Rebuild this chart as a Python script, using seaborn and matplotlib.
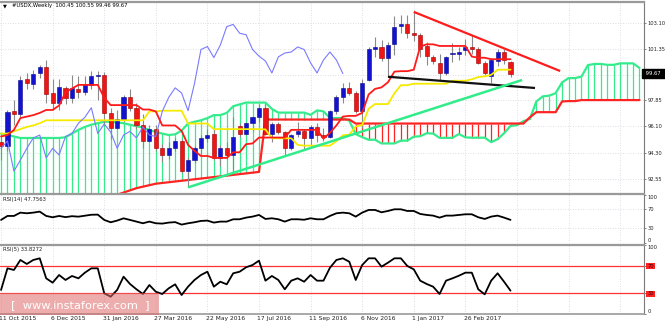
import numpy as np
import pandas as pd
import matplotlib
matplotlib.use("Agg")
import matplotlib.pyplot as plt
import matplotlib.transforms as mtrans
from matplotlib.patches import Rectangle
import seaborn as sns

# ---------------- weekly USDX candles (bar 0 = week of 11 Oct 2015) ----------------
OPEN = [95.0, 94.75, 97.1, 96.9, 99.3, 98.96, 99.7, 100.11, 98.35, 97.67,
        98.69, 98.0, 98.62, 98.42, 98.9, 99.5, 99.57, 97.0, 96.0, 96.6,
        98.1, 97.3, 96.2, 95.1, 95.9, 94.6, 94.15, 94.6, 95.1, 93.05,
        93.8, 94.6, 95.3, 95.6, 93.95, 94.6, 94.15, 96.1, 95.6, 96.3,
        96.7, 97.35, 95.6, 96.25, 95.7, 94.6, 95.6, 95.75, 95.3, 96.05,
        95.5, 95.4, 97.1, 98.1, 98.7, 98.35, 97.15, 99.2, 101.3, 101.5,
        100.75, 101.65, 102.9, 103.0, 102.45, 102.3, 101.55, 100.8, 100.4, 99.71,
        100.98, 101.0, 101.25, 101.5, 101.34, 100.39, 99.5, 100.52, 101.13, 100.45]
HIGH = [95.6, 97.2, 97.9, 99.5, 99.7, 99.9, 100.25, 100.6, 99.3, 99.3,
        98.85, 99.55, 99.5, 99.5, 99.85, 99.85, 99.8, 97.3, 97.2, 98.2,
        98.6, 97.7, 96.9, 96.2, 96.2, 94.9, 95.0, 95.3, 95.2, 94.0,
        94.75, 95.5, 95.9, 95.95, 94.8, 95.0, 96.7, 96.3, 96.4, 96.8,
        97.6, 97.6, 96.4, 96.4, 95.8, 95.6, 96.4, 95.9, 96.2, 96.3,
        96.0, 97.2, 98.2, 99.0, 99.1, 98.5, 99.3, 101.5, 102.15, 101.95,
        101.8, 103.6, 103.65, 103.65, 103.85, 102.4, 101.8, 100.9, 101.0, 100.85,
        101.74, 101.5, 102.0, 102.25, 101.5, 100.5, 100.7, 101.3, 101.35, 100.55]
LOW = [93.8, 94.4, 96.2, 96.7, 98.6, 98.6, 99.4, 97.7, 97.2, 97.2,
       97.6, 97.7, 98.0, 98.2, 98.6, 97.9, 96.2, 95.2, 95.9, 96.4,
       97.1, 95.9, 94.6, 95.0, 94.4, 93.7, 93.9, 94.4, 92.95, 91.95,
       93.6, 94.2, 95.0, 93.8, 93.4, 93.9, 93.05, 95.4, 95.5, 95.8,
       96.4, 95.5, 95.0, 95.6, 94.1, 94.5, 95.4, 94.5, 94.7, 95.0,
       95.1, 95.3, 96.9, 97.7, 98.2, 97.0, 96.0, 99.15, 100.8, 100.5,
       99.45, 100.9, 102.4, 102.1, 101.9, 100.8, 100.25, 100.3, 99.23, 99.6,
       100.45, 100.6, 100.9, 101.0, 100.3, 99.6, 99.03, 100.2, 100.3, 99.46]
CLOSE = [94.75, 97.06, 96.9, 99.23, 99.0, 99.64, 100.11, 98.28, 97.67, 98.76,
         98.0, 98.69, 98.42, 98.96, 99.5, 99.55, 97.0, 96.0, 96.6, 98.1,
         97.3, 96.2, 95.1, 95.9, 94.6, 94.15, 94.6, 95.1, 93.05, 93.8,
         94.6, 95.3, 95.5, 93.95, 94.6, 94.15, 95.4, 95.6, 96.3, 96.7,
         97.35, 95.6, 96.25, 95.7, 94.6, 95.5, 95.75, 95.3, 96.05, 95.5,
         95.4, 97.1, 98.05, 98.7, 98.35, 97.15, 99.0, 101.3, 101.5, 100.75,
         101.6, 102.85, 103.0, 102.4, 102.3, 101.3, 100.85, 100.52, 99.71, 100.8,
         101.06, 101.13, 101.47, 101.3, 100.39, 99.71, 100.59, 101.13, 100.59, 99.67]

# ---------------- Ichimoku lines ----------------
TENKAN = [95.4, 95.5, 95.85, 96.65, 96.75, 96.85, 97.0, 97.2, 97.2, 97.5,
          98.4, 98.65, 98.9, 98.9, 98.9, 98.9, 98.03, 97.53, 97.53, 97.53,
          97.53, 97.53, 97.23, 97.23, 97.1, 96.15, 96.15, 96.15, 95.78, 94.83,
          94.43, 94.08, 94.08, 93.95, 93.95, 93.95, 94.33, 94.33, 94.88, 94.93,
          95.33, 95.33, 95.33, 95.33, 95.33, 95.85, 95.85, 95.85, 95.85, 95.85,
          95.25, 95.65, 96.15, 96.75, 96.8, 96.8, 97.0, 98.25, 98.63, 98.73,
          99.08, 99.8, 99.83, 99.83, 99.93, 101.5, 101.65, 101.65, 101.54, 101.54,
          101.54, 101.54, 101.54, 100.82, 100.74, 100.74, 100.64, 100.64, 100.64, 100.64]
KIJUN = [95.6, 95.6, 95.75, 95.9, 96.05, 96.15, 96.3, 96.5, 96.5, 96.5,
         96.5, 96.5, 96.5, 96.5, 96.5, 96.5, 96.5, 96.5, 96.5, 96.5,
         96.5, 96.5, 96.5, 97.1, 97.1, 97.15, 97.15, 97.15, 97.15, 96.28,
         96.28, 96.28, 96.28, 95.9, 95.9, 95.9, 95.9, 95.9, 95.9, 95.9,
         95.9, 95.88, 95.28, 95.28, 95.28, 95.28, 94.83, 94.78, 94.78, 94.78,
         94.78, 94.78, 95.08, 95.48, 95.53, 96.08, 96.18, 97.28, 97.6, 97.6,
         97.6, 98.33, 98.88, 98.88, 98.98, 98.98, 98.98, 98.98, 98.98, 98.98,
         99.18, 99.18, 99.18, 99.28, 99.43, 99.48, 99.58, 99.93, 99.93, 99.93]
SENKOU_A = [95.6, 95.5, 95.4, 95.3, 95.3, 95.3, 95.3, 95.3, 95.3, 95.3,
            95.35, 95.6, 95.85, 96.05, 96.2, 96.3, 96.4, 96.4, 96.35, 96.3,
            96.2, 96.1, 96.0, 95.85, 95.7, 95.6, 95.5, 95.55, 95.8, 96.28,
            96.4, 96.5, 96.65, 96.85, 96.85, 97.0, 97.45, 97.58, 97.7, 97.7,
            97.7, 97.7, 97.27, 97.02, 97.02, 97.02, 97.02, 97.02, 96.87, 97.17,
            97.1, 96.65, 96.65, 96.65, 96.47, 95.56, 95.36, 95.18, 95.18, 94.93,
            94.93, 94.93, 95.12, 95.12, 95.39, 95.42, 95.62, 95.6, 95.31, 95.31,
            95.31, 95.57, 95.34, 95.32, 95.32, 95.32, 95.02, 95.22, 95.62, 96.12,
            96.17, 96.44, 96.59, 97.77, 98.12, 98.17, 98.34, 99.07, 99.36, 99.36,
            99.46, 100.24, 100.32, 100.32, 100.26, 100.26, 100.36, 100.36, 100.36, 100.05]
SENKOU_B = [89.5, 89.55, 89.6, 89.7, 89.85, 89.95, 90.0, 90.05, 90.1, 90.15,
            90.25, 90.4, 90.5, 90.7, 90.85, 91.0, 91.15, 91.3, 91.45, 91.6,
            91.75, 91.9, 92.0, 92.1, 92.2, 92.25, 92.3, 92.35, 92.4, 92.45,
            92.5, 92.55, 92.6, 92.65, 92.7, 92.75, 92.8, 92.85, 92.9, 92.95,
            93.0, 96.55, 96.55, 96.55, 96.55, 96.55, 96.55, 96.55, 96.55, 96.55,
            96.55, 96.55, 96.55, 96.55, 96.55, 96.28, 96.28, 96.28, 96.28, 96.28,
            96.28, 96.28, 96.28, 96.28, 96.28, 96.28, 96.28, 96.28, 96.28, 96.28,
            96.28, 96.28, 96.28, 96.28, 96.28, 96.28, 96.28, 96.28, 96.28, 96.28,
            96.28, 96.28, 96.7, 97.05, 97.05, 97.05, 97.05, 97.78, 97.8, 97.8,
            97.87, 97.87, 97.87, 97.87, 97.87, 97.87, 97.87, 97.87, 97.87, 97.87]
CHIKOU_SHIFT = 26

# ---------------- oscillators ----------------
RSI14 = [47.6, 56.0, 56.0, 63.0, 61.6, 63.0, 65.1, 56.0, 53.2, 56.0,
         53.5, 55.5, 54.5, 56.5, 58.5, 58.8, 47.6, 42.7, 46.2, 51.0,
         47.6, 44.1, 40.6, 44.1, 40.6, 39.9, 42.0, 43.0, 37.8, 40.6,
         42.7, 45.5, 46.2, 42.0, 44.1, 44.1, 49.0, 49.0, 52.5, 54.6,
         58.1, 49.7, 51.1, 49.0, 44.1, 49.0, 49.0, 48.0, 51.1, 49.0,
         49.0, 56.0, 61.6, 63.0, 61.6, 54.6, 63.0, 68.6, 68.6, 63.7,
         66.5, 70.0, 70.0, 66.5, 66.5, 60.2, 58.1, 56.7, 52.5, 56.7,
         56.7, 58.1, 59.5, 59.5, 53.2, 49.7, 54.6, 56.7, 52.5, 47.7563]
RSI5 = [34.8, 66.2, 63.8, 78.3, 72.5, 78.3, 80.7, 51.7, 45.4, 56.5,
        49.3, 55.1, 51.7, 59.9, 66.2, 66.2, 30.0, 25.1, 34.8, 54.1,
        43.5, 35.8, 29.0, 42.0, 32.3, 29.0, 37.2, 43.0, 27.5, 39.6,
        49.3, 56.5, 61.3, 39.6, 46.8, 43.0, 59.0, 61.3, 67.7, 71.0,
        77.3, 48.3, 55.1, 49.3, 35.8, 48.3, 51.7, 46.8, 56.5, 48.3,
        48.3, 67.0, 78.3, 80.7, 75.8, 49.3, 71.0, 80.7, 80.7, 68.6,
        74.4, 80.7, 80.7, 69.6, 64.7, 48.3, 43.5, 39.6, 29.0, 48.3,
        51.7, 55.5, 59.9, 59.9, 35.8, 28.5, 48.3, 59.0, 46.8, 33.8272]
RSI5_LEVELS = [70, 30]

# ---------------- axis text ----------------
DATE_LABELS = ["11 Oct 2015", "6 Dec 2015", "31 Jan 2016", "27 Mar 2016", "22 May 2016",
               "17 Jul 2016", "11 Sep 2016", "6 Nov 2016", "1 Jan 2017", "26 Feb 2017"]
DATE_BARS = [0, 8, 16, 24, 32, 40, 48, 56, 64, 72]
GRID_BARS = [0, 8, 16, 24, 32, 40, 48, 56, 64, 72, 80, 88, 96]
PRICE_TICKS = [103.10, 101.35, 97.85, 96.10, 94.30, 92.55]
PRICE_GRID = [103.10, 101.35, 99.60, 97.85, 96.10, 94.30, 92.55]

# ---------------- hand-drawn trend lines (bar, price) ----------------
RED_TREND_BARS, RED_TREND_PRICES = [64, 86.7], [103.85, 99.84]
BLACK_TREND_BARS, BLACK_TREND_PRICES = [60, 82.8], [99.45, 98.69]
GREEN_TREND_BARS, GREEN_TREND_PRICES = [29, 80.8], [91.95, 99.23]

# ---------------- colours ----------------
BULL, BULL_EDGE = "#1212d0", "#0a0a8c"
BEAR, BEAR_EDGE = "#f01515", "#9c0000"
WICK = "#8a8a8a"
CLOUD_GREEN = "#34ec8c"
CLOUD_RED = "#ff2424"
TENKAN_C = "#ff1a1a"
KIJUN_C = "#f5ea00"
CHIKOU_C = "#7a7aff"
GRID_C = "#d4d4dc"
BORDER_C = "#9a9a9a"
TXT = "#202020"

sns.set_style("white")
plt.rcParams["font.family"] = ["DejaVu Sans"]

W, H = 665, 325
PLOT_RIGHT = 644
fig = plt.figure(figsize=(W / 100, H / 100), dpi=100)
fig.patch.set_facecolor("white")


def panel(top, bottom):
    return fig.add_axes([0, 1 - bottom / H, PLOT_RIGHT / W, (bottom - top) / H])


ax = panel(2, 193)
ax14 = panel(194, 243)
ax5 = panel(245, 314)

for a in (ax, ax14, ax5):
    a.set_xlim(-0.16, 99.7)
    a.set_facecolor("white")
    a.spines["left"].set_visible(False)
    a.spines["bottom"].set_visible(False)
    a.spines["right"].set_color("#7a7a7a")
    a.spines["right"].set_linewidth(0.8)
    a.spines["top"].set_color(BORDER_C)
    a.spines["top"].set_linewidth(1.6)
    a.set_xticks([])
    a.yaxis.tick_right()
    a.tick_params(axis="y", length=1.5, width=0.6, color="#707070", pad=0.8,
                  labelsize=3.7, labelcolor=TXT)
    for b in GRID_BARS:
        a.axvline(b, color=GRID_C, lw=0.6, ls=(0, (1, 2)), zorder=0)
ax5.spines["bottom"].set_visible(True)
ax5.spines["bottom"].set_color(BORDER_C)
ax5.spines["bottom"].set_linewidth(1.2)

# ---------------- main price panel ----------------
ax.set_ylim(91.57, 104.52)
for p in PRICE_GRID:
    ax.axhline(p, color=GRID_C, lw=0.6, ls=(0, (1, 2)), zorder=0)

# Kumo: hatch between the two spans, coloured by which one is on top
sa = np.array(SENKOU_A)
sb = np.array(SENKOU_B)
kb = np.arange(len(sa))
up_cloud = sa >= sb
ax.vlines(kb[up_cloud], sb[up_cloud], sa[up_cloud], color=CLOUD_GREEN, lw=0.9, zorder=1)
ax.vlines(kb[~up_cloud], sa[~up_cloud], sb[~up_cloud], color=CLOUD_RED, lw=0.9, zorder=1)
cloud = pd.DataFrame({"bar": kb, "span_a": sa, "span_b": sb})
sns.lineplot(data=cloud, x="bar", y="span_a", color=CLOUD_GREEN, lw=1.6,
             estimator=None, sort=False, ax=ax, zorder=2)
sns.lineplot(data=cloud, x="bar", y="span_b", color=CLOUD_RED, lw=1.6,
             estimator=None, sort=False, ax=ax, zorder=2)

# Candles
o, h, l, c = map(np.array, (OPEN, HIGH, LOW, CLOSE))
bars = np.arange(len(c))
bull = c >= o
body_lo = np.minimum(o, c)
body_h = np.maximum(np.abs(c - o), 0.05)
ax.vlines(bars, l, h, color=WICK, lw=0.8, zorder=3)
ax.bar(bars[bull], body_h[bull], bottom=body_lo[bull], width=0.64,
       color=BULL, edgecolor=BULL_EDGE, lw=0.4, zorder=4)
ax.bar(bars[~bull], body_h[~bull], bottom=body_lo[~bull], width=0.64,
       color=BEAR, edgecolor=BEAR_EDGE, lw=0.4, zorder=4)

# Tenkan, Kijun and the lagging close
lines = pd.DataFrame({"bar": bars, "tenkan": TENKAN, "kijun": KIJUN})
sns.lineplot(data=lines, x="bar", y="kijun", color=KIJUN_C, lw=1.3,
             estimator=None, sort=False, ax=ax, zorder=5)
sns.lineplot(data=lines, x="bar", y="tenkan", color=TENKAN_C, lw=1.3,
             estimator=None, sort=False, ax=ax, zorder=6)
chikou = pd.DataFrame({"bar": bars[:-CHIKOU_SHIFT], "close": c[CHIKOU_SHIFT:]})
sns.lineplot(data=chikou, x="bar", y="close", color=CHIKOU_C, lw=0.8,
             estimator=None, sort=False, ax=ax, zorder=5)

# Trend lines
ax.plot(RED_TREND_BARS, RED_TREND_PRICES, color="#ff1c1c", lw=1.6, zorder=7,
        solid_capstyle="butt")
ax.plot(BLACK_TREND_BARS, BLACK_TREND_PRICES, color="#111111", lw=1.6, zorder=7,
        solid_capstyle="butt")
ax.plot(GREEN_TREND_BARS, GREEN_TREND_PRICES, color="#30ec8a", lw=1.8, zorder=7,
        solid_capstyle="butt")

ax.set_yticks(PRICE_TICKS)
ax.set_yticklabels([f"{v:.2f}" for v in PRICE_TICKS])
ax.set_xlabel("")
ax.set_ylabel("")

# Last price marker on the scale
last_tr = mtrans.blended_transform_factory(ax.transAxes, ax.transData)
ax.text(1.0, c[-1], f" {c[-1]:.2f}  ", transform=last_tr, ha="left", va="center",
        fontsize=3.7, color="white", clip_on=False, zorder=10,
        bbox=dict(boxstyle="square,pad=0.35", facecolor="black", edgecolor="black"))

# ---------------- RSI(14) ----------------
ax14.set_ylim(-0.95, 102.2)
for lv in (70, 30):
    ax14.axhline(lv, color=GRID_C, lw=0.6, ls=(0, (1, 2)), zorder=0)
rsi = pd.DataFrame({"bar": bars, "rsi14": RSI14, "rsi5": RSI5})
sns.lineplot(data=rsi, x="bar", y="rsi14", color="black", lw=1.3,
             estimator=None, sort=False, ax=ax14, zorder=3)
ax14.set_yticks([100, 70, 30, 0])
ax14.set_yticklabels(["100", "70", "30", "0"])
ax14.set_xlabel("")
ax14.set_ylabel("")
tl = ax14.get_yticklabels()
tl[0].set_va("top")
tl[-1].set_va("bottom")

# ---------------- RSI(5) ----------------
ax5.set_ylim(0, 100)
for lv in RSI5_LEVELS:
    ax5.axhline(lv, color="#ff3030", lw=0.9, zorder=1)
sns.lineplot(data=rsi, x="bar", y="rsi5", color="black", lw=1.3,
             estimator=None, sort=False, ax=ax5, zorder=3)
ax5.set_yticks([100, 70, 30, 0])
ax5.set_yticklabels(["100", "70", "30", "0"])
ax5.set_xlabel("")
ax5.set_ylabel("")
tl5 = ax5.get_yticklabels()
tl5[0].set_va("top")
tl5[-1].set_va("bottom")
for t in tl5[1:3]:
    t.set_bbox(dict(boxstyle="square,pad=0.15", facecolor="#ff2020", edgecolor="none"))
    t.set_color("#3a0000")

# Date labels under the bottom panel
date_tr = mtrans.blended_transform_factory(ax5.transData, ax5.transAxes)
for b, lab in zip(DATE_BARS, DATE_LABELS):
    ax5.text(b - 0.25, -0.06, lab, transform=date_tr, ha="left", va="center",
             fontsize=4.3, color=TXT, clip_on=False)

# ---------------- header texts ----------------
fig.text(3 / W, 1 - 5.5 / H, "\u25BC", fontsize=3.6, color="black", va="center")
fig.text(12 / W, 1 - 6 / H,
         f"#USDX,Weekly  {OPEN[-1]:.2f} {HIGH[-1]:.2f} {LOW[-1]:.2f} {CLOSE[-1]:.2f}",
         fontsize=3.8, color="black", va="center")
fig.text(3 / W, 1 - 199 / H, f"RSI(14) {RSI14[-1]:.4f}", fontsize=3.8, color=TXT, va="center")
fig.text(3 / W, 1 - 249 / H, f"RSI(5) {RSI5[-1]:.4f}", fontsize=3.8, color=TXT, va="center")

# ---------------- site watermark ----------------
fig.add_artist(Rectangle((0, 1 - 315 / H), 159 / W, 22 / H, transform=fig.transFigure,
                         facecolor="#e06a6a", edgecolor="none", alpha=0.55, zorder=20))
fig.text(80 / W, 1 - 305 / H, "[  www.instaforex.com  ]", ha="center", va="center",
         fontsize=8.2, color="white", zorder=21)

fig.savefig("out.png", dpi=100, facecolor="white")
